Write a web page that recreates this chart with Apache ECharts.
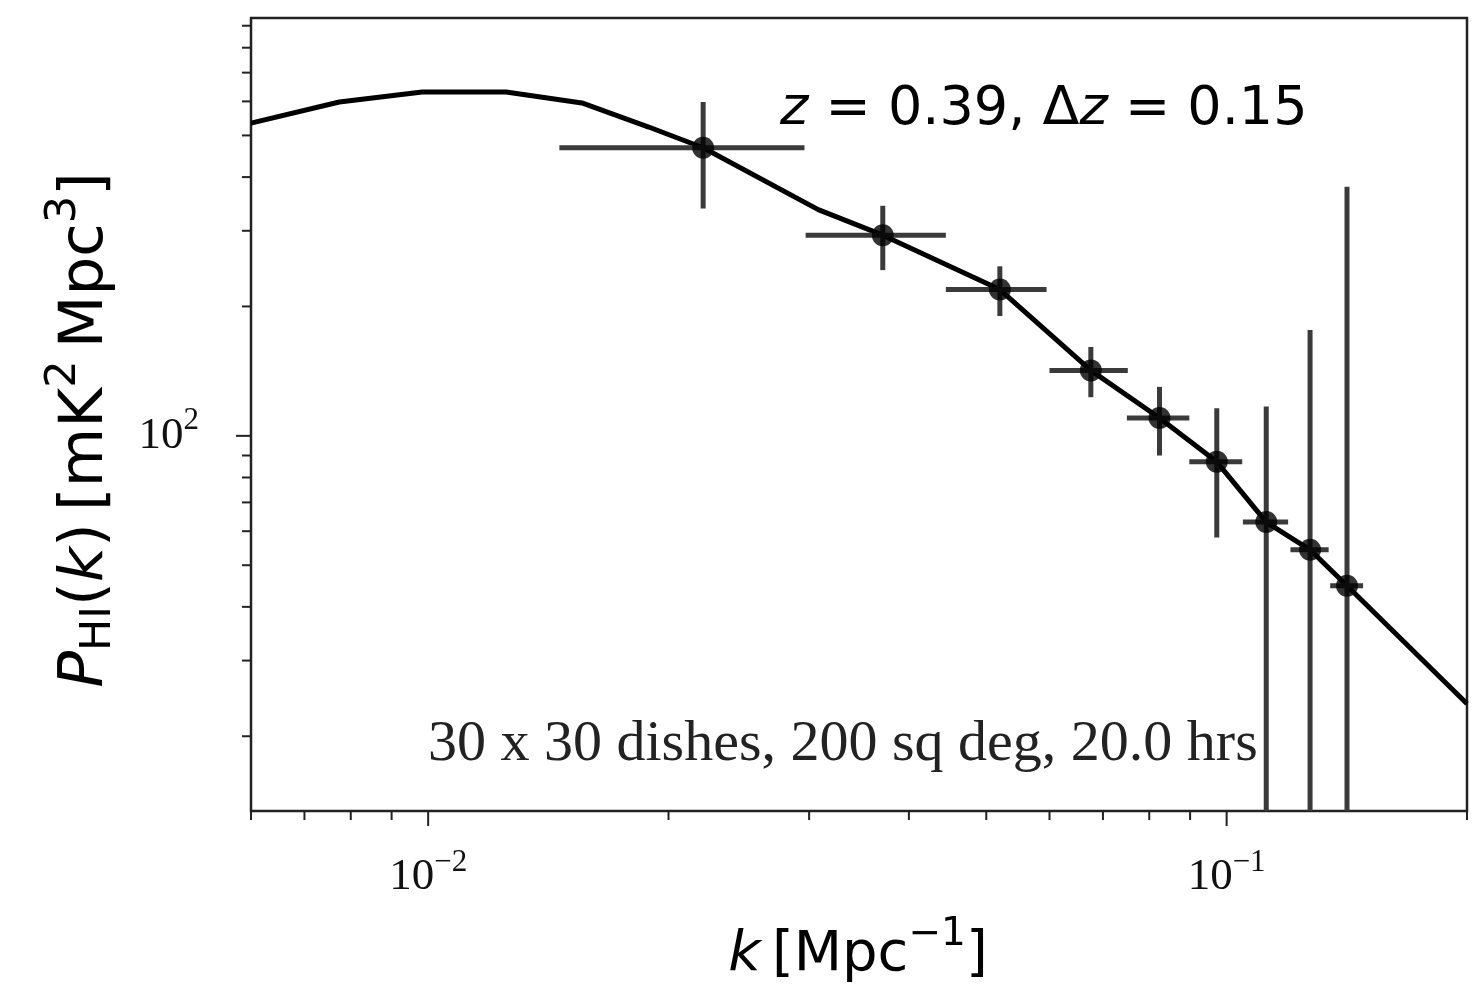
<!DOCTYPE html>
<html><head><meta charset="utf-8">
<script src="https://cdn.jsdelivr.net/npm/echarts@6/dist/echarts.min.js"></script>
<style>html,body{margin:0;padding:0;background:#fff}#c{width:1481px;height:990px}</style>
</head><body><div id="c"></div>
<script>
// theory curve
const curveK = [0.006, 0.00774, 0.00983, 0.01252, 0.01558, 0.01889, 0.0221, 0.0308, 0.0371, 0.0520, 0.0676, 0.0824, 0.0972, 0.1121, 0.1272, 0.1415, 0.2];
const curveP = [534, 598, 631, 631, 595, 523, 468, 336, 293, 219, 142, 110, 87, 63, 54.3, 44.8, 23.8];
// forecast band powers
const kPts = [0.0221, 0.0371, 0.0520, 0.0676, 0.0824, 0.0972, 0.1121, 0.1272, 0.1415];
const pPts = [468, 293, 219, 142, 110, 87, 63, 54.3, 44.8];
const kErr = [0.0075, 0.0074, 0.0075, 0.0076, 0.0074, 0.0074, 0.0073, 0.0070, 0.0067];
const pErr = [130, 50, 29, 19, 20, 29, 54, 122, 335];
// axes
const xRange = [0.006, 0.2];
const yRange = [13.4, 938];
const xMajorTicks = [0.01, 0.1];
const xMinorTicks = [0.006, 0.007, 0.008, 0.009, 0.02, 0.03, 0.04, 0.05, 0.06, 0.07, 0.08, 0.09, 0.2];
const yMajorTicks = [100];
const yMinorTicks = [20, 30, 40, 50, 60, 70, 80, 90, 200, 300, 400, 500, 600, 700, 800, 900];
const annotBottom = '30 x 30 dishes, 200 sq deg, 20.0 hrs';

const SANS = 'DejaVu Sans';
const SERIF = 'Liberation Serif';
function mathRich(fs) {
  const sub = Math.round(fs * 0.7);
  return {
    n: {fontFamily: SANS, fontSize: fs, color: '#111'},
    i: {fontFamily: SANS, fontStyle: 'italic', fontSize: fs, color: '#111'},
    sup: {fontFamily: SANS, fontSize: sub, color: '#111', padding: [0, 0, Math.round(fs * 0.72), 0]},
    sub: {fontFamily: SANS, fontSize: sub, color: '#111', padding: [Math.round(fs * 0.43), 0, 0, 0]}
  };
}
const tickRich = {
  b: {fontFamily: SERIF, fontSize: 45, color: '#111'},
  s: {fontFamily: SERIF, fontSize: 31, color: '#111', padding: [0, 0, 30, 0]}
};
function powLabel(v) {
  const e = Math.log10(v);
  const r = Math.round(e);
  if (Math.abs(e - r) > 1e-6) return '';
  return '{b|10}{s|' + (r < 0 ? '\u2212' + (-r) : r) + '}';
}

function tickSeries(vals, axis, len) {
  return {
    type: 'custom', coordinateSystem: 'cartesian2d', clip: false, silent: true, z: 5,
    data: vals.map(v => axis === 'x' ? [v, yRange[0]] : [xRange[0], v]),
    renderItem: function (params, api) {
      const p = api.coord([api.value(0), api.value(1)]);
      const shape = axis === 'x' ? {x1: p[0], y1: p[1], x2: p[0], y2: p[1] + len}
                                 : {x1: p[0], y1: p[1], x2: p[0] - len, y2: p[1]};
      return {type: 'line', shape: shape, style: {stroke: '#222', lineWidth: 2}};
    }
  };
}

const chart = echarts.init(document.getElementById('c'), null, {renderer: 'canvas'});
chart.setOption({
  animation: false,
  backgroundColor: '#fff',
  grid: {left: 251, top: 18, right: 14, bottom: 179, show: true, borderColor: '#222', borderWidth: 2.5, backgroundColor: 'transparent'},
  xAxis: {
    type: 'log', logBase: 10, min: xRange[0], max: xRange[1],
    axisLine: {show: false}, axisTick: {show: false}, splitLine: {show: false},
    axisLabel: {formatter: powLabel, rich: tickRich, margin: 36, showMinLabel: true, showMaxLabel: true}
  },
  yAxis: {
    type: 'log', logBase: 10, min: yRange[0], max: yRange[1],
    axisLine: {show: false}, axisTick: {show: false}, splitLine: {show: false},
    axisLabel: {formatter: powLabel, rich: tickRich, margin: 52}
  },
  graphic: [
    {type: 'text', x: 858, y: 955, style: {text: '{i|k}{n|\u2009[Mpc}{sup|\u22121}{n|]}', rich: mathRich(56), align: 'center', verticalAlign: 'middle'}},
    {type: 'text', x: 86, y: 430, rotation: Math.PI / 2,
     style: {text: '{i|P}{sub|HI}{n|(}{i|k}{n|)\u2009[mK}{sup|2}{n|\u2009Mpc}{sup|3}{n|]}', rich: mathRich(61), align: 'center', verticalAlign: 'middle'}},
    {type: 'text', x: 780, y: 110,
     style: {text: '{i|z}{n| = 0.39, Δ}{i|z}{n| = 0.15}', rich: mathRich(54), align: 'left', verticalAlign: 'middle'}},
    {type: 'text', x: 428, y: 745,
     style: {text: annotBottom, font: '58px "Liberation Serif"', fill: '#222', align: 'left', verticalAlign: 'middle'}}
  ],
  series: [
    tickSeries(xMinorTicks, 'x', 9),
    tickSeries(xMajorTicks, 'x', 15),
    tickSeries(yMinorTicks, 'y', 9),
    tickSeries(yMajorTicks, 'y', 15),
    {
      type: 'line', data: curveK.map((k, i) => [k, curveP[i]]), showSymbol: false, smooth: false,
      lineStyle: {color: '#000', width: 5}, z: 3, silent: true
    },
    {
      type: 'custom', coordinateSystem: 'cartesian2d', clip: true, z: 4, silent: true,
      data: kPts.map((k, i) => [k, pPts[i], kErr[i], pErr[i]]),
      renderItem: function (params, api) {
        const k = api.value(0), p = api.value(1), dk = api.value(2), dp = api.value(3);
        const lo = (p - dp) > yRange[0] ? p - dp : yRange[0];
        const l = api.coord([k - dk, p]), r = api.coord([k + dk, p]);
        const t = api.coord([k, p + dp]), b = api.coord([k, lo]);
        const st = {stroke: '#3a3a3a', lineWidth: 5};
        return {type: 'group', children: [
          {type: 'line', shape: {x1: l[0], y1: l[1], x2: r[0], y2: r[1]}, style: st},
          {type: 'line', shape: {x1: t[0], y1: t[1], x2: b[0], y2: b[1]}, style: st}
        ]};
      }
    },
    {
      type: 'scatter', data: kPts.map((k, i) => [k, pPts[i]]), symbol: 'circle', symbolSize: 22,
      itemStyle: {color: '#000'}, z: 6, silent: true
    }
  ]
});
</script></body></html>
